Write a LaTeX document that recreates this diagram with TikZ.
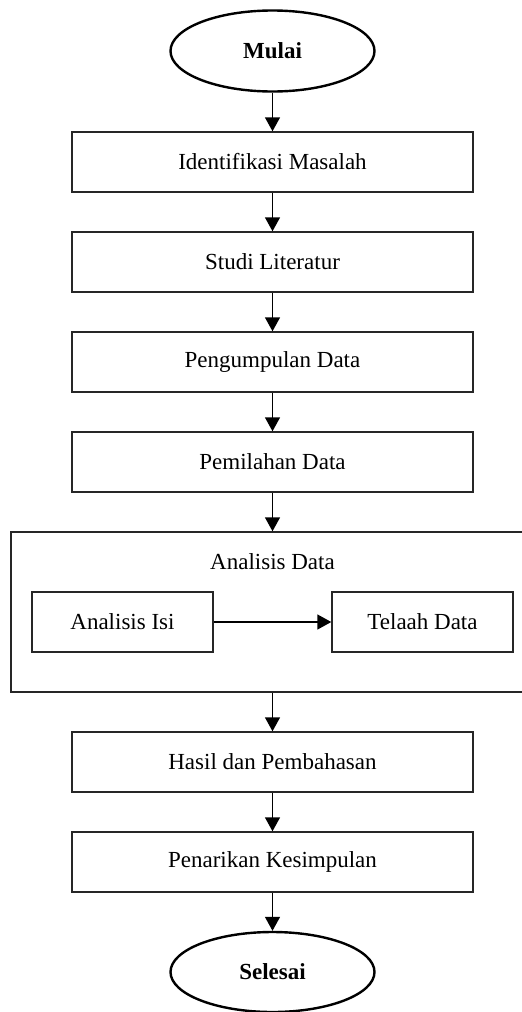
\documentclass[tikz,border=0pt]{standalone}
\usepackage{fontspec}
\setmainfont{Liberation Serif}
\usetikzlibrary{shapes.geometric,arrows.meta}
\begin{document}
\begin{tikzpicture}[x=1pt,y=-1pt,
  txt/.style={font=\fontsize{23}{26}\selectfont},
  box/.style={txt,draw=black!85,line width=1.4pt,minimum width=401pt,minimum height=60pt,inner sep=0pt},
  sbox/.style={box,minimum width=181pt},
  term/.style={txt,ellipse,draw=black,line width=2.4pt,minimum width=204pt,minimum height=81pt,inner sep=0pt},
  arr/.style={line width=1.4pt,-{Triangle[length=14pt,width=15pt]}}]
\useasboundingbox (0,0) rectangle (522,1012);
\clip (0,0) rectangle (522,1012);
\node[term] (mulai) at (272.5,51) {\textbf{Mulai}};
\node[box] (b1) at (272.5,162) {Identifikasi Masalah};
\node[box] (b2) at (272.5,262) {Studi Literatur};
\node[box] (b3) at (272.5,362) {Pengumpulan Data};
\node[box] (b4) at (272.5,462) {Pemilahan Data};
\node[box,minimum width=529pt,minimum height=160pt] (cont) at (275.5,612) {};
\node[txt] (lab) at (272.5,562) {Analisis Data};
\node[sbox] (isi) at (122.5,622) {Analisis Isi};
\node[sbox] (tel) at (422.5,622) {Telaah Data};
\node[box] (b5) at (272.5,762) {Hasil dan Pembahasan};
\node[box] (b6) at (272.5,862) {Penarikan Kesimpulan};
\node[term,minimum height=80pt] (sel) at (272.5,972) {\textbf{Selesai}};
\coordinate (cin) at (b4.south |- cont.north);
\coordinate (cout) at (b5.north |- cont.south);
\draw[arr] (mulai.south) -- (b1.north);
\draw[arr] (b1) -- (b2);
\draw[arr] (b2) -- (b3);
\draw[arr] (b3) -- (b4);
\draw[arr] (b4.south) -- (cin);
\draw[arr] (isi) -- (tel);
\draw[arr] (cout) -- (b5.north);
\draw[arr] (b5) -- (b6);
\draw[arr] (b6.south) -- (sel.north);
\end{tikzpicture}
\end{document}
